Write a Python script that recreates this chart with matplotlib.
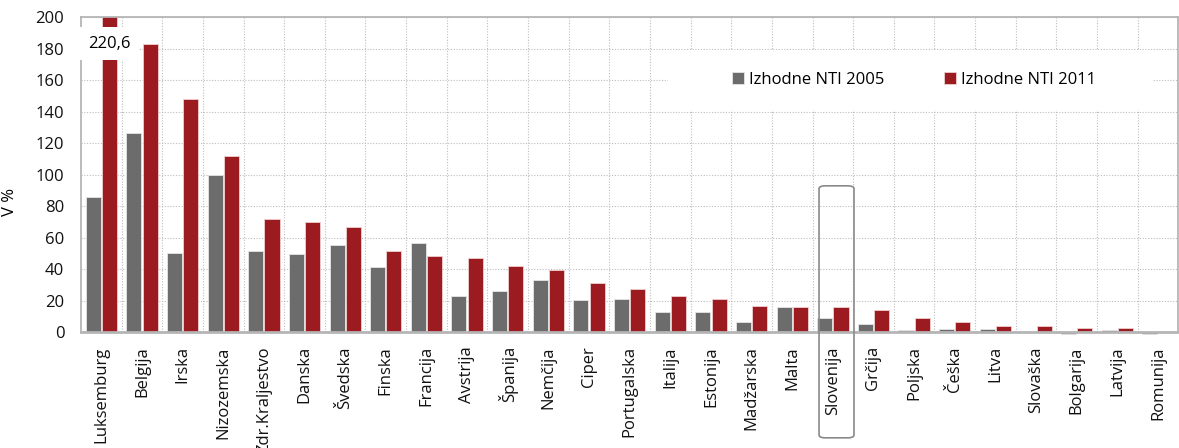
import matplotlib
matplotlib.use("Agg")
import matplotlib.pyplot as plt
from matplotlib.patches import Rectangle, FancyBboxPatch
import numpy as np

plt.rcParams['font.family'] = ['Open Sans', 'DejaVu Sans']

countries = ["Luksemburg", "Belgija", "Irska", "Nizozemska", "Zdr.Kraljestvo",
             "Danska", "Švedska", "Finska", "Francija", "Avstrija", "Španija",
             "Nemčija", "Ciper", "Portugalska", "Italija", "Estonija",
             "Madžarska", "Malta", "Slovenija", "Grčija", "Poljska", "Češka",
             "Litva", "Slovaška", "Bolgarija", "Latvija", "Romunija"]
nti_2005 = [86.1, 126.3, 50.6, 100.1, 51.6, 49.7, 55.2, 41.5, 56.9, 23.1, 26.0,
            33.2, 20.3, 21.2, 13.1, 13.1, 6.8, 15.9, 9.3, 5.1, 1.3, 2.1, 2.1,
            0.2, -1.3, 1.3, -1.3]
nti_2011 = [220.6, 183.1, 148.4, 112.0, 71.7, 69.8, 67.1, 51.6, 48.7, 47.0, 42.3,
            39.6, 31.3, 27.7, 23.1, 21.2, 16.7, 15.9, 15.9, 14.0, 9.3, 6.8, 4.0,
            4.0, 3.0, 3.0, 0.3]
labels = ["Izhodne NTI 2005", "Izhodne NTI 2011"]
highlight = "Slovenija"

gray = "#6c6c6c"
red = "#9b1b21"
grid_c = "#bdbdbd"

fig = plt.figure(figsize=(11.79, 4.48), dpi=100)
ax = fig.add_axes([81 / 1179, 1 - 332.3 / 448, 1097.3 / 1179, 315 / 448])

x = np.arange(len(countries))
w = 0.37
off = 0.2
b1 = ax.bar(x - off, nti_2005, w, color=gray, edgecolor="#e6e6e6", linewidth=0.6,
            zorder=2, label=labels[0], clip_on=False)
b2 = ax.bar(x + off, nti_2011, w, color=red, edgecolor="#efcfcf", linewidth=0.6,
            zorder=2, label=labels[1])

ax.set_xlim(-0.5, len(countries) - 0.5)
ax.set_ylim(0, 200)
ax.set_yticks(np.arange(0, 201, 20))
ax.set_xticks(x)
ax.set_xticklabels(countries, rotation=90, va="top", ha="center")
ax.set_xticks(np.arange(0.5, len(countries) - 0.5, 1), minor=True)
ax.tick_params(axis="both", which="both", length=0, labelsize=12, colors="#111111")
ax.tick_params(axis="y", pad=12)
ax.tick_params(axis="x", pad=10)

ax.set_axisbelow(True)
ax.grid(axis="y", which="major", color=grid_c, linestyle=(0, (1, 1.5)), linewidth=0.8)
ax.grid(axis="x", which="minor", color=grid_c, linestyle=(0, (1, 1.5)), linewidth=0.8)

for s in ax.spines.values():
    s.set_color("#b5b5b5")
    s.set_linewidth(1.3)
ax.spines["bottom"].set_linewidth(2)

ax.set_ylabel("V %", fontsize=12)
ax.yaxis.set_label_coords(-0.057, 0.414)

# break on the clipped Luksemburg bar
ax.text(x[0] + off, 183.3, f"{nti_2011[0]:.1f}".replace(".", ","), ha="center",
        va="center", fontsize=12, zorder=4,
        bbox=dict(boxstyle="square,pad=0.5", facecolor="white", edgecolor="none"))

# legend area covers the grid
ax.add_patch(Rectangle((0.535, 0.706), 0.442, 0.19, transform=ax.transAxes,
                       facecolor="white", edgecolor="none", zorder=1))
ax.legend(loc="center", bbox_to_anchor=(0.759, 0.801), ncol=2, frameon=False,
          fontsize=12, handlelength=0.7, handleheight=0.7, handletextpad=0.3,
          columnspacing=3.6)

# highlight box around Slovenija
i = countries.index(highlight)
box = FancyBboxPatch((i - 0.34, -67), 0.86, 160,
                     boxstyle="round,pad=0,rounding_size=0.15",
                     mutation_aspect=12, facecolor="none", edgecolor="#8a8a8a",
                     linewidth=1.2, clip_on=False, zorder=5)
ax.add_patch(box)

fig.savefig("out.png", dpi=100)
